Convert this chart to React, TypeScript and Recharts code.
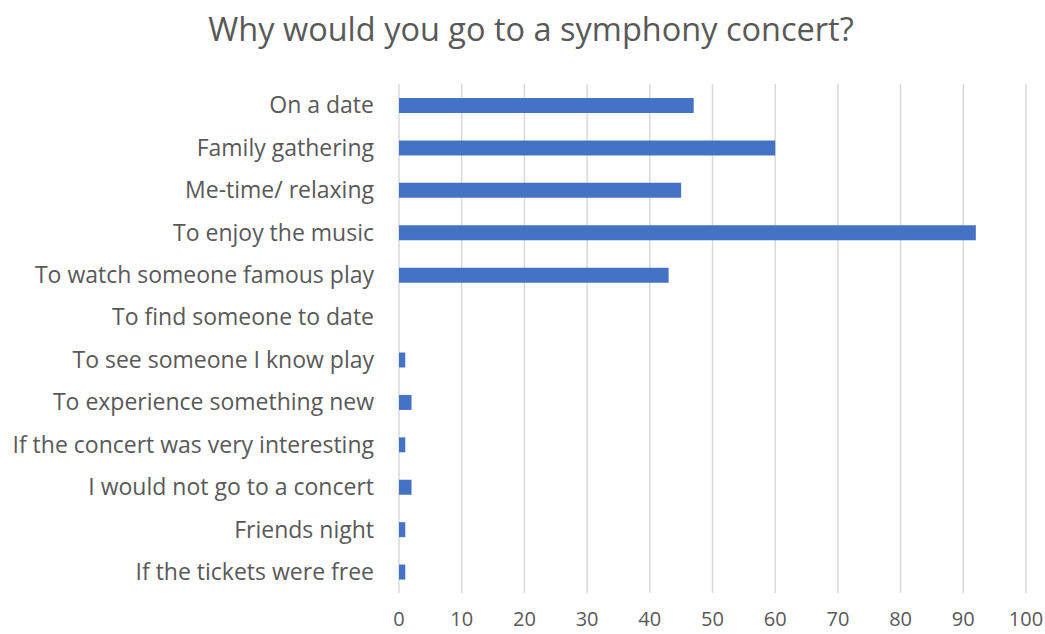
import { BarChart, Bar, XAxis, YAxis, CartesianGrid } from 'recharts';

// Survey: reasons to attend a symphony concert
const REASONS = [
  'On a date',
  'Family gathering',
  'Me-time/ relaxing',
  'To enjoy the music',
  'To watch someone famous play',
  'To find someone to date',
  'To see someone I know play',
  'To experience something new',
  'If the concert was very interesting',
  'I would not go to a concert',
  'Friends night',
  'If the tickets were free',
];
const COUNTS = [47, 60, 45, 92, 43, 0, 1, 2, 1, 2, 1, 1];
const X_TICKS = [0, 10, 20, 30, 40, 50, 60, 70, 80, 90, 100];

const rows = REASONS.map((reason, i) => ({ reason, count: COUNTS[i] }));

const FONT = '"Open Sans", "Liberation Sans", sans-serif';
const TEXT = '#595959';

export default function App() {
  return (
    <div style={{ position: 'absolute', left: 0, top: 0, width: 1045, height: 634, background: '#fff', fontFamily: FONT }}>
      <div style={{ position: 'absolute', top: 7, left: 0, width: 1062, textAlign: 'center', fontSize: 32.5, color: TEXT, lineHeight: '44px' }}>
        Why would you go to a symphony concert?
      </div>
      <BarChart width={1045} height={634} data={rows} layout="vertical" margin={{ top: 84, right: 19, left: 0, bottom: 0 }}>
        <CartesianGrid horizontal={false} vertical stroke="#d9d9d9" strokeWidth={1.5} />
        <XAxis type="number" domain={[0, 100]} ticks={X_TICKS} axisLine={false} tickLine={false} height={41}
          tickMargin={13} tick={{ fill: TEXT, fontSize: 20, fontFamily: FONT }} interval={0} />
        <YAxis type="category" dataKey="reason" width={399} axisLine={false} tickLine={false} tickMargin={19}
          tick={{ fill: TEXT, fontSize: 23, fontFamily: FONT }} interval={0} />
        <Bar dataKey="count" fill="#4472C4" barSize={15} isAnimationActive={false} />
      </BarChart>
    </div>
  );
}
